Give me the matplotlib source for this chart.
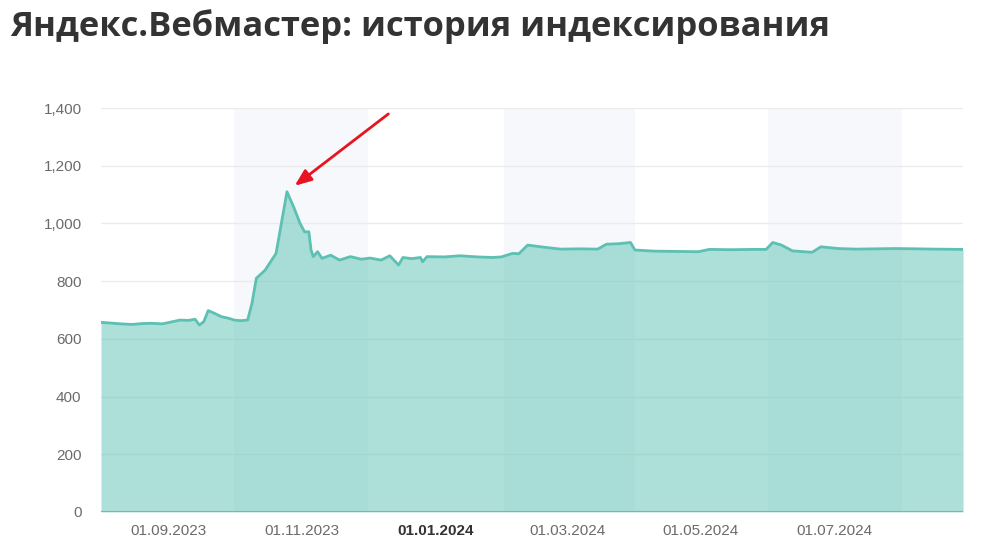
import matplotlib
matplotlib.use('Agg')
import matplotlib.pyplot as plt
import matplotlib.dates as mdates
import matplotlib.ticker as mticker
import pandas as pd

# indexed pages
dates = [
    '2023-08-01', '2023-08-05', '2023-08-10', '2023-08-15', '2023-08-20', '2023-08-24',
    '2023-08-29', '2023-09-03', '2023-09-06', '2023-09-10', '2023-09-13', '2023-09-15',
    '2023-09-17', '2023-09-19', '2023-09-22', '2023-09-25', '2023-09-28', '2023-10-01',
    '2023-10-04', '2023-10-07', '2023-10-09', '2023-10-11', '2023-10-15', '2023-10-20',
    '2023-10-25', '2023-10-28', '2023-10-31', '2023-11-02', '2023-11-04', '2023-11-05',
    '2023-11-06', '2023-11-08', '2023-11-10', '2023-11-14', '2023-11-18', '2023-11-23',
    '2023-11-28', '2023-12-02', '2023-12-07', '2023-12-11', '2023-12-15', '2023-12-17',
    '2023-12-21', '2023-12-25', '2023-12-26', '2023-12-28', '2024-01-05', '2024-01-12',
    '2024-01-20', '2024-01-27', '2024-01-31', '2024-02-05', '2024-02-08', '2024-02-12',
    '2024-02-18', '2024-02-27', '2024-03-07', '2024-03-15', '2024-03-19', '2024-03-25',
    '2024-03-30', '2024-04-01', '2024-04-10', '2024-04-20', '2024-04-30', '2024-05-05',
    '2024-05-15', '2024-05-25', '2024-05-31', '2024-06-03', '2024-06-07', '2024-06-12',
    '2024-06-21', '2024-06-25', '2024-07-03', '2024-07-11', '2024-07-20', '2024-07-29',
    '2024-08-08', '2024-08-16', '2024-08-29',
]
pages = [
    657, 655, 652, 650, 653, 654,
    652, 660, 665, 664, 668, 648,
    660, 698, 688, 677, 672, 665,
    663, 665, 723, 810, 838, 896,
    1110, 1058, 1000, 971, 971, 908,
    885, 902, 879, 890, 873, 885,
    876, 880, 873, 888, 856, 882,
    878, 882, 867, 885, 884, 888,
    884, 882, 884, 896, 895, 925,
    919, 911, 912, 911, 928, 930,
    934, 908, 904, 903, 902, 910,
    909, 910, 910, 934, 925, 905,
    900, 919, 913, 911, 912, 913,
    912, 911, 910,
]

bands = [('2023-10-01', '2023-12-01'), ('2024-02-01', '2024-04-01'), ('2024-06-01', '2024-08-01')]
tick_dates = ['2023-09-01', '2023-11-01', '2024-01-01', '2024-03-01', '2024-05-01', '2024-07-01']
y_ticks = [0, 200, 400, 600, 800, 1000, 1200, 1400]

x = pd.to_datetime(dates)

fig = plt.figure(figsize=(10.08, 5.52), dpi=100)
ax = fig.add_axes([0.1002, 0.0725, 0.8552, 0.7318])

for a, b in bands:
    ax.axvspan(pd.Timestamp(a), pd.Timestamp(b), color='#f7f8fb', zorder=0, lw=0)

for v in y_ticks[1:]:
    ax.axhline(v, color='#ebebeb', lw=1, zorder=1)

ax.fill_between(x, pages, 0, color='#5bc3b5', alpha=0.5, lw=0, zorder=2)
ax.plot(x, pages, color='#5cc0b3', lw=2.0, zorder=3, solid_joinstyle='round')
ax.axhline(0, color='#a3a3a3', lw=1.5, zorder=4)

ax.set_xlim(x[0], x[-1])
ax.set_ylim(0, 1400)
ax.set_yticks(y_ticks)
ax.yaxis.set_major_formatter(mticker.FuncFormatter(lambda v, p: f'{int(v):,}'))
ax.set_xticks(pd.to_datetime(tick_dates))
ax.xaxis.set_major_formatter(mdates.DateFormatter('%d.%m.%Y'))

for s in ax.spines.values():
    s.set_visible(False)
ax.tick_params(axis='both', length=0, labelsize=11, labelcolor='#6b6b6b',
               labelfontfamily='Liberation Sans')
ax.tick_params(axis='y', pad=14)
ax.tick_params(axis='x', pad=9)
for lbl in ax.get_xticklabels():
    if lbl.get_text() == '01.01.2024':
        lbl.set_fontweight('bold')
        lbl.set_color('#333333')

# arrow pointing at the peak
i_peak = pages.index(max(pages))
ax.annotate('', xy=(x[i_peak], pages[i_peak]), xytext=(73, 56), textcoords='offset points',
            arrowprops=dict(arrowstyle='-|>,head_length=1.0,head_width=0.4', color='#e8141f',
                            lw=2, shrinkA=0, shrinkB=7), zorder=6)

fig.text(0.0099, 0.935, 'Яндекс.Вебмастер: история индексирования', fontsize=24.8,
         fontweight='bold', family='Open Sans', color='#333333', va='baseline')

fig.savefig('out.png', dpi=100)
